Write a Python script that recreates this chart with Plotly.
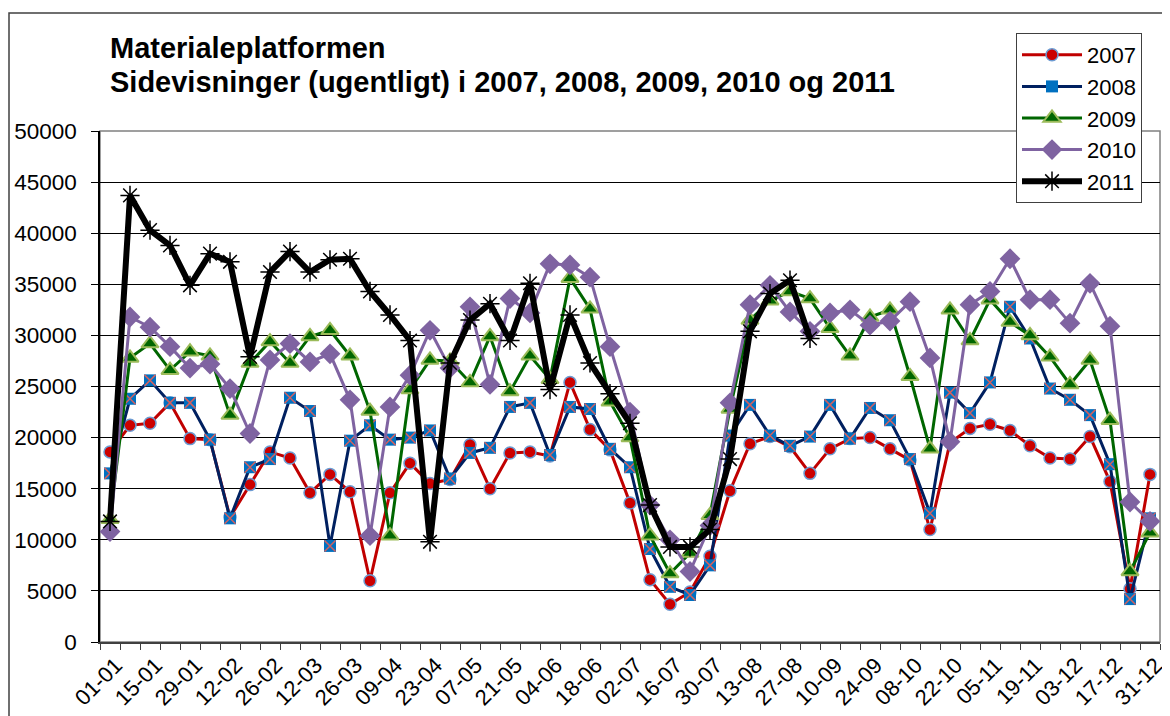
import plotly.graph_objects as go

weeks = ["01-01", "08-01", "15-01", "22-01", "29-01", "05-02", "12-02", "19-02", "26-02",
         "05-03", "12-03", "19-03", "26-03", "02-04", "09-04", "16-04", "23-04", "30-04",
         "07-05", "14-05", "21-05", "28-05", "04-06", "11-06", "18-06", "25-06", "02-07",
         "09-07", "16-07", "23-07", "30-07", "06-08", "13-08", "20-08", "27-08", "03-09",
         "10-09", "17-09", "24-09", "01-10", "08-10", "15-10", "22-10", "29-10", "05-11",
         "12-11", "19-11", "26-11", "03-12", "10-12", "17-12", "24-12", "31-12"]

v2007 = [18600, 21200, 21400, 23400, 19900, 19800, 12200, 15400, 18600, 18000, 14600, 16400,
         14700, 6000, 14600, 17500, 15500, 15900, 19300, 15000, 18500, 18600, 18200, 25400,
         20800, 18800, 13600, 6100, 3700, 4900, 8400, 14800, 19400, 20100, 19100, 16500,
         18900, 19900, 20000, 18900, 17800, 11000, 19500, 20900, 21300, 20700, 19200, 18000,
         17900, 20100, 15700, 5200, 16400]

v2008 = [16500, 23800, 25600, 23400, 23400, 19800, 12100, 17100, 17900, 23900, 22600, 9400,
         19700, 21200, 19800, 20000, 20700, 16000, 18500, 19000, 23000, 23400, 18300, 23000,
         22800, 18900, 17100, 9100, 5400, 4600, 7500, 20200, 23200, 20200, 19200, 20100,
         23200, 19900, 22900, 21700, 17900, 12600, 24400, 22400, 25400, 32800, 29700, 24800,
         23700, 22200, 17400, 4200, 12100]

v2009 = [12000, 27800, 29200, 26600, 28400, 28000, 22200, 27300, 29400, 27300, 29900, 30500,
         28000, 22600, 10400, 24700, 27600, 27500, 25400, 29900, 24500, 28000, 25700, 35600,
         32600, 23500, 20000, 10400, 6700, 8700, 12400, 22800, 31500, 33400, 34300, 33600,
         30700, 28000, 31800, 32500, 26000, 18900, 32500, 29500, 33500, 31300, 30000, 27900,
         25200, 27600, 21700, 6900, 10700]

v2010 = [10800, 31800, 30800, 28900, 26800, 27200, 24800, 20400, 27600, 29200, 27400, 28200,
         23700, 10400, 23000, 26100, 30500, 26800, 32800, 25200, 33600, 32200, 37000, 36900,
         35700, 28900, 22500, 13400, 10000, 6900, 11400, 23400, 33000, 34900, 32300, 30400,
         32200, 32500, 31000, 31400, 33300, 27800, 19600, 33000, 34300, 37500, 33500, 33500,
         31200, 35100, 30900, 13700, 11800]

v2011 = [11800, 43700, 40300, 38800, 34900, 38000, 37200, 27900, 36200, 38200, 36200, 37400,
         37500, 34300, 32000, 29500, 9800, 27300, 31500, 33100, 29500, 35100, 24700, 32000,
         27300, 24300, 21400, 13400, 9300, 9300, 11000, 17900, 30400, 34100, 35400, 29700]

tick_text = [w if i % 2 == 0 else "" for i, w in enumerate(weeks)]
y_ticks = [0, 5000, 10000, 15000, 20000, 25000, 30000, 35000, 40000, 45000, 50000]
y_text = [str(v) for v in y_ticks]

FONT = "Liberation Sans, Arial, sans-serif"

fig = go.Figure()

fig.add_trace(go.Scatter(
    x=weeks, y=v2007, name="2007", mode="lines+markers", legendgroup="2007",
    line=dict(color="#C00000", width=3),
    marker=dict(symbol="circle", size=12, color="#CC0000",
                line=dict(color="#6C9BD2", width=1.5))))

fig.add_trace(go.Scatter(
    x=weeks, y=v2008, name="2008", mode="lines+markers", legendgroup="2008",
    line=dict(color="#002060", width=3),
    marker=dict(symbol="square", size=12, color="#0070C0",
                line=dict(color="#0070C0", width=0))))
fig.add_trace(go.Scatter(
    x=weeks, y=v2008, name="2008", mode="markers", legendgroup="2008", showlegend=False,
    marker=dict(symbol="x-thin", size=11, color="#D06060",
                line=dict(color="#D06060", width=1.5))))

fig.add_trace(go.Scatter(
    x=weeks, y=v2009, name="2009", mode="lines+markers", legendgroup="2009",
    line=dict(color="#006600", width=3),
    marker=dict(symbol="triangle-up", size=15, color="#006600",
                line=dict(color="#9BBB59", width=2))))

fig.add_trace(go.Scatter(
    x=weeks, y=v2010, name="2010", mode="lines+markers", legendgroup="2010",
    line=dict(color="#7F63A1", width=3),
    marker=dict(symbol="diamond", size=16, color="#7F63A1",
                line=dict(color="#7F63A1", width=0))))

fig.add_trace(go.Scatter(
    x=weeks[:len(v2011)], y=v2011, name="2011", mode="lines+markers", legendgroup="2011",
    line=dict(color="#000000", width=6),
    marker=dict(symbol="asterisk-open", size=16, color="#000000",
                line=dict(color="#000000", width=1.5))))

# page has an 8px body margin, so the figure is sized/placed to compensate
fig.update_layout(
    width=1162, height=708,
    margin=dict(l=92, r=10, t=123, b=74, autoexpand=False),
    paper_bgcolor="white", plot_bgcolor="white",
    font=dict(family=FONT, size=22, color="#000000"),
    showlegend=True,
    legend=dict(x=(1016 - 100) / 1060, y=(642 - 33) / 511, xanchor="left", yanchor="top",
                bgcolor="white", bordercolor="#404040", borderwidth=1,
                itemwidth=60,
                font=dict(family=FONT, size=22), traceorder="grouped", tracegroupgap=0),
    xaxis=dict(type="category", categoryorder="array", categoryarray=weeks,
               range=[-0.5, len(weeks) - 0.5], automargin=False,
               tickmode="array", tickvals=weeks, ticktext=tick_text,
               tickson="boundaries", ticks="outside", ticklen=6, tickcolor="#404040",
               tickangle=-45, tickfont=dict(family=FONT, size=22), ticklabelshift=6,
               showline=True, linecolor="#404040", linewidth=1.5,
               showgrid=False, zeroline=False),
    yaxis=dict(range=[0, 50000], tickmode="array", tickvals=y_ticks, ticktext=y_text,
               automargin=False,
               ticks="outside", ticklen=7, tickcolor="#000000", ticklabelstandoff=10,
               tickfont=dict(family=FONT, size=22.5),
               showline=True, linecolor="#000000", linewidth=1.5,
               showgrid=True, gridcolor="#000000", gridwidth=1, zeroline=False),
    annotations=[
        dict(text="<b>Materialeplatformen</b>", xref="paper", yref="paper",
             x=(108 - 100) / 1060, y=(642 - 48) / 511, xanchor="left", yanchor="middle",
             showarrow=False, font=dict(family=FONT, size=29)),
        dict(text="<b>Sidevisninger (ugentligt) i 2007, 2008, 2009, 2010 og 2011</b>",
             xref="paper", yref="paper",
             x=(108 - 100) / 1060, y=(642 - 82) / 511, xanchor="left", yanchor="middle",
             showarrow=False, font=dict(family=FONT, size=29)),
    ],
    shapes=[
        dict(type="rect", xref="paper", yref="paper", x0=0, x1=1, y0=0, y1=1,
             line=dict(color="#808080", width=1.5), layer="below"),
        dict(type="rect", xref="paper", yref="paper",
             x0=(9 - 100) / 1060, x1=(1180 - 100) / 1060,
             y0=(642 - 730) / 511, y1=(642 - 13) / 511,
             line=dict(color="#404040", width=1.5), layer="below"),
    ],
)

fig.write_html("out.html")
